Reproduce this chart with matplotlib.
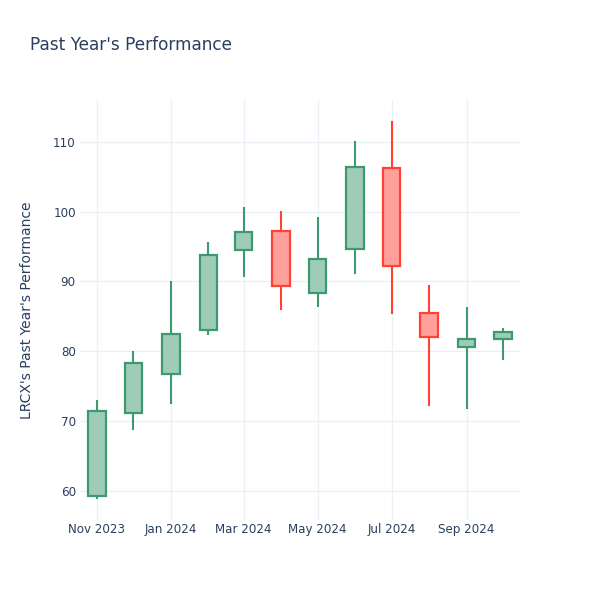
import matplotlib
matplotlib.use("Agg")
import matplotlib.pyplot as plt
import matplotlib.dates as mdates
import numpy as np
import pandas as pd

dates = ["2023-11-01", "2023-12-01", "2024-01-01", "2024-02-01", "2024-03-01", "2024-04-01",
         "2024-05-01", "2024-06-01", "2024-07-01", "2024-08-01", "2024-09-01", "2024-10-01"]
opens = [59.3, 71.2, 76.8, 83.1, 94.5, 97.2, 88.3, 94.7, 106.2, 85.5, 80.6, 81.8]
highs = [73.0, 80.1, 90.0, 95.6, 100.7, 100.1, 99.2, 110.1, 113.0, 89.5, 86.3, 83.4]
lows = [58.9, 68.7, 72.4, 82.4, 90.6, 85.9, 86.3, 91.1, 85.4, 72.1, 71.7, 78.7]
closes = [71.5, 78.3, 82.5, 93.8, 97.1, 89.4, 93.2, 106.4, 92.2, 82.1, 81.7, 82.8]

title = "Past Year's Performance"
ylabel = "LRCX's Past Year's Performance"
yticks = [60, 70, 80, 90, 100, 110]
xtick_dates = ["2023-11-01", "2024-01-01", "2024-03-01", "2024-05-01", "2024-07-01", "2024-09-01"]
xtick_labels = ["Nov 2023", "Jan 2024", "Mar 2024", "May 2024", "Jul 2024", "Sep 2024"]

text_color = "#2a3f5f"
grid_color = "#EBF0F8"
inc_line, inc_fill = "#3D9970", "#9ECCB7"
dec_line, dec_fill = "#FF4136", "#FFA09A"

plt.rcParams['font.family'] = ['DejaVu Sans']

fig = plt.figure(figsize=(6, 6), dpi=100)
ax = fig.add_axes([80/600, 80/600, 440/600, 420/600])

x = mdates.date2num(pd.to_datetime(dates))
width = 14.5
for xi, o, h, l, c in zip(x, opens, highs, lows, closes):
    up = c >= o
    lc = inc_line if up else dec_line
    fc = inc_fill if up else dec_fill
    lo_b, hi_b = min(o, c), max(o, c)
    ax.plot([xi, xi], [l, lo_b], color=lc, lw=1.5, solid_capstyle='butt', zorder=2)
    ax.plot([xi, xi], [hi_b, h], color=lc, lw=1.5, solid_capstyle='butt', zorder=2)
    ax.bar(xi, hi_b - lo_b, bottom=lo_b, width=width, color=fc, edgecolor=lc, linewidth=1.6, zorder=3)

ax.set_xlim(mdates.date2num(pd.Timestamp("2023-10-18")), mdates.date2num(pd.Timestamp("2024-10-15")))
ax.set_ylim(55.85, 115.97)
ax.set_yticks(yticks)
ax.set_xticks(mdates.date2num(pd.to_datetime(xtick_dates)))
ax.set_xticklabels(xtick_labels)
ax.tick_params(axis='both', length=0, labelsize=8.6, colors=text_color)
ax.tick_params(axis='y', pad=3)
ax.tick_params(axis='x', pad=2)
for s in ax.spines.values():
    s.set_visible(False)
ax.grid(True, color=grid_color, linewidth=1)
ax.set_axisbelow(True)

ax.set_ylabel(ylabel, fontsize=10, color=text_color)
ax.yaxis.set_label_coords(-0.105, 0.5)

fig.text(30/600, 1 - 45/600, title, fontsize=12.2, color=text_color, va='center', ha='left')

fig.savefig("out.png", dpi=100, facecolor="white")
